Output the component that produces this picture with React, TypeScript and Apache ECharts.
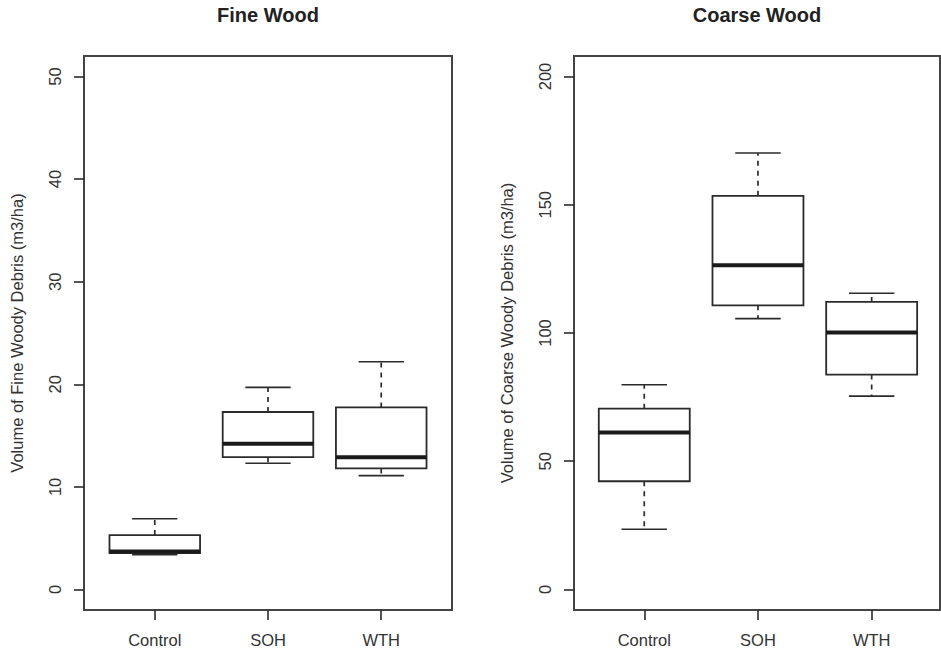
import React, { useEffect, useRef } from 'react';
import * as echarts from 'echarts';

const categories = ['Control', 'SOH', 'WTH'];
const categoryPositions = [1, 2, 3];

const fineLow = [3.4, 12.3, 11.1];
const fineQ1 = [3.55, 12.9, 11.8];
const fineMedian = [3.7, 14.2, 12.9];
const fineQ3 = [5.3, 17.3, 17.75];
const fineHigh = [6.9, 19.7, 22.2];

const coarseLow = [23.5, 105.6, 75.4];
const coarseQ1 = [42.2, 110.8, 83.8];
const coarseMedian = [61.2, 126.4, 100.2];
const coarseQ3 = [70.5, 153.5, 112.1];
const coarseHigh = [79.8, 170.2, 115.5];

const fineTicks = [0, 10, 20, 30, 40, 50];
const coarseTicks = [0, 50, 100, 150, 200];

const FONT = '"Liberation Sans", Arial, Helvetica, sans-serif';
const INK = '#2b2b2b';

const buildRows = (lo: number[], q1: number[], md: number[], q3: number[], hi: number[]) =>
  categoryPositions.map((p, i) => [p, lo[i], q1[i], md[i], q3[i], hi[i]]);

const renderBox = (_params: any, api: any) => {
  const x = api.value(0);
  const lo = api.coord([x, api.value(1)]);
  const q1 = api.coord([x, api.value(2)]);
  const md = api.coord([x, api.value(3)]);
  const q3 = api.coord([x, api.value(4)]);
  const hi = api.coord([x, api.value(5)]);
  const boxW = api.size([0.8, 0])[0];
  const capW = api.size([0.4, 0])[0];
  const cx = md[0];
  const dashed = { stroke: INK, lineWidth: 1.7, lineDash: [5, 5] };
  const solid = { stroke: INK, lineWidth: 1.6 };
  return {
    type: 'group',
    children: [
      { type: 'line', shape: { x1: cx, y1: q3[1], x2: cx, y2: hi[1] }, style: dashed },
      { type: 'line', shape: { x1: cx, y1: q1[1], x2: cx, y2: lo[1] }, style: dashed },
      { type: 'line', shape: { x1: cx - capW / 2, y1: hi[1], x2: cx + capW / 2, y2: hi[1] }, style: solid },
      { type: 'line', shape: { x1: cx - capW / 2, y1: lo[1], x2: cx + capW / 2, y2: lo[1] }, style: solid },
      {
        type: 'rect',
        shape: { x: cx - boxW / 2, y: q3[1], width: boxW, height: q1[1] - q3[1] },
        style: { fill: '#ffffff', stroke: INK, lineWidth: 1.8 },
      },
      {
        type: 'line',
        shape: { x1: cx - boxW / 2, y1: md[1], x2: cx + boxW / 2, y2: md[1] },
        style: { stroke: '#1a1a1a', lineWidth: 4 },
      },
    ],
  };
};

const labelStyle = { fontSize: 16.5, color: '#333', fontFamily: FONT };

const makeXAxis = (gridIndex: number, min: number, max: number) => ({
  gridIndex,
  type: 'value',
  position: 'bottom',
  min,
  max,
  splitLine: { show: false },
  axisLine: { show: false, onZero: false },
  axisTick: { show: true, length: 10, lineStyle: { color: INK, width: 1.6 }, customValues: categoryPositions },
  axisLabel: {
    ...labelStyle,
    margin: 21,
    customValues: categoryPositions,
    formatter: (v: number) => categories[Math.round(v) - 1] ?? '',
  },
});

const makeYAxis = (gridIndex: number, min: number, max: number, ticks: number[], name: string) => ({
  gridIndex,
  type: 'value',
  position: 'left',
  min,
  max,
  name,
  nameLocation: 'middle',
  nameGap: 59,
  nameRotate: 90,
  nameTextStyle: { ...labelStyle },
  splitLine: { show: false },
  axisLine: { show: false, onZero: false },
  axisTick: { show: true, length: 10, lineStyle: { color: INK, width: 1.6 }, customValues: ticks },
  axisLabel: { ...labelStyle, rotate: 90, margin: 21, customValues: ticks },
});

export default function App() {
  const ref = useRef<HTMLDivElement>(null);
  useEffect(() => {
    if (!ref.current) return;
    const chart = echarts.init(ref.current, undefined, { renderer: 'svg' });
    chart.setOption({
      animation: false,
      backgroundColor: '#ffffff',
      title: [
        {
          text: 'Fine Wood',
          left: 268,
          top: 5,
          textAlign: 'center',
          padding: 0,
          textStyle: { fontSize: 20, fontWeight: 'bold', color: '#222', fontFamily: FONT },
        },
        {
          text: 'Coarse Wood',
          left: 757,
          top: 5,
          textAlign: 'center',
          padding: 0,
          textStyle: { fontSize: 20, fontWeight: 'bold', color: '#222', fontFamily: FONT },
        },
      ],
      grid: [
        { left: 84, top: 56, width: 368, height: 554, show: true, borderColor: '#444', borderWidth: 2, backgroundColor: 'transparent' },
        { left: 574, top: 56, width: 366, height: 554, show: true, borderColor: '#444', borderWidth: 2, backgroundColor: 'transparent' },
      ],
      xAxis: [makeXAxis(0, 0.375, 3.625), makeXAxis(1, 0.382, 3.601)],
      yAxis: [
        makeYAxis(0, -2, 52, fineTicks, 'Volume of Fine Woody Debris (m3/ha)'),
        makeYAxis(1, -8, 208, coarseTicks, 'Volume of Coarse Woody Debris (m3/ha)'),
      ],
      series: [
        {
          type: 'custom',
          name: 'Fine Wood',
          xAxisIndex: 0,
          yAxisIndex: 0,
          renderItem: renderBox,
          encode: { x: 0, y: [1, 2, 3, 4, 5] },
          data: buildRows(fineLow, fineQ1, fineMedian, fineQ3, fineHigh),
        },
        {
          type: 'custom',
          name: 'Coarse Wood',
          xAxisIndex: 1,
          yAxisIndex: 1,
          renderItem: renderBox,
          encode: { x: 0, y: [1, 2, 3, 4, 5] },
          data: buildRows(coarseLow, coarseQ1, coarseMedian, coarseQ3, coarseHigh),
        },
      ],
    });
    return () => chart.dispose();
  }, []);
  return (
    <div
      ref={ref}
      style={{ position: 'fixed', left: 0, top: 0, width: 941, height: 651, background: '#fff' }}
    />
  );
}
